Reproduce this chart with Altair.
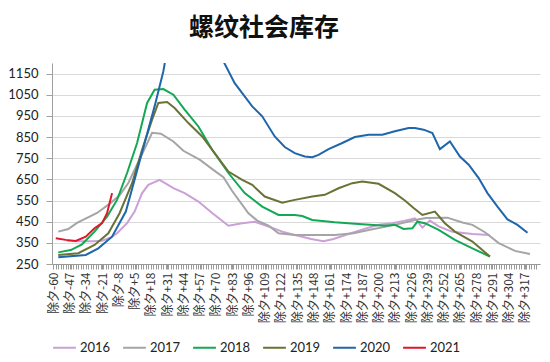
import altair as alt
import pandas as pd

years = ["2016", "2017", "2018", "2019", "2020", "2021"]
colors = ["#CBA0D6", "#A5A5A5", "#13A853", "#6A7335", "#1F66AB", "#E0162B"]

d2016_days = [-49, -42, -35, -28, -21, -14, -9, -1, 5, 11, 16, 25, 36, 45, 56, 67, 80, 91, 101, 112, 123, 133, 139, 146, 156, 164, 176, 188, 200, 211, 221, 229, 235, 241, 248, 259, 275, 289]
d2016_vals = [360, 358, 358, 358, 360, 375, 395, 443, 498, 585, 624, 648, 609, 585, 545, 491, 431, 443, 450, 427, 403, 387, 379, 368, 358, 368, 392, 415, 435, 443, 455, 466, 422, 455, 428, 402, 392, 387]

d2017_days = [-56, -48, -41, -25, -14, -7, 0, 10, 19, 26, 36, 44, 57, 69, 76, 83, 96, 103, 112, 120, 133, 150, 165, 180, 192, 213, 229, 238, 255, 267, 275, 285, 296, 309, 321]
d2017_vals = [403, 415, 444, 491, 539, 575, 633, 757, 870, 866, 829, 785, 743, 690, 660, 595, 490, 455, 432, 395, 387, 387, 387, 395, 411, 435, 458, 467, 469, 446, 435, 400, 349, 312, 297]

d2018_days = [-56, -46, -37, -27, -17, -9, -1, 7, 15, 21, 28, 36, 45, 56, 67, 80, 93, 107, 120, 133, 139, 147, 165, 184, 205, 213, 220, 227, 231, 237, 248, 261, 275, 289]
d2018_vals = [305, 316, 343, 403, 474, 553, 680, 822, 1011, 1074, 1077, 1050, 980, 900, 790, 680, 585, 521, 482, 482, 477, 458, 447, 439, 431, 435, 416, 419, 450, 443, 411, 364, 324, 285]

d2019_days = [-56, -40, -27, -16, -7, 3, 11, 19, 24, 31, 37, 48, 59, 69, 80, 91, 99, 109, 123, 133, 147, 157, 168, 179, 187, 200, 213, 221, 228, 235, 245, 253, 261, 275, 289]
d2019_vals = [293, 301, 340, 395, 490, 632, 790, 932, 1011, 1016, 987, 916, 853, 774, 687, 648, 624, 569, 540, 553, 569, 577, 608, 632, 640, 629, 585, 550, 515, 482, 498, 443, 403, 356, 285]

d2020_days = [-56, -34, -24, -13, -2, 5, 13, 21, 28, 35, 42, 49, 56, 63, 70, 76, 85, 99, 107, 117, 125, 133, 141, 147, 152, 160, 171, 181, 192, 203, 213, 224, 229, 236, 243, 249, 257, 265, 272, 280, 287, 295, 303, 311, 319]
d2020_vals = [282, 293, 324, 379, 498, 648, 822, 995, 1161, 1400, 1520, 1560, 1500, 1400, 1290, 1208, 1105, 995, 948, 853, 803, 774, 758, 755, 766, 793, 822, 850, 861, 861, 877, 893, 893, 885, 869, 793, 829, 758, 719, 656, 585, 521, 461, 435, 398]

d2021_days = [-58, -50, -42, -34, -27, -21, -17, -13]
d2021_vals = [372, 364, 359, 379, 419, 443, 490, 585]

y_ticks = [250, 350, 450, 550, 650, 750, 850, 950, 1050, 1150]
x_label_start = -60
x_label_step = 13

series = {
    "2016": (d2016_days, d2016_vals),
    "2017": (d2017_days, d2017_vals),
    "2018": (d2018_days, d2018_vals),
    "2019": (d2019_days, d2019_vals),
    "2020": (d2020_days, d2020_vals),
    "2021": (d2021_days, d2021_vals),
}
rows = []
for yr, (ds, vs) in series.items():
    for d, v in zip(ds, vs):
        rows.append({"year": yr, "day": d, "value": v})
df = pd.DataFrame(rows)

x_tick_values = sorted(set(range(-60, 328, 2)) | set(range(x_label_start, 328, x_label_step)))
label_expr = ("(datum.value + 60) % 13 == 0 ? (datum.value < 0 ? '除夕' + datum.value : '除夕+' + datum.value) : ''")

chart = alt.Chart(df).mark_line(strokeWidth=2, clip=True).encode(
    x=alt.X("day:Q", scale=alt.Scale(domain=[-61, 329], nice=False, zero=False),
            axis=alt.Axis(values=x_tick_values, labelExpr=label_expr, labelAngle=270,
                          labelOverlap=False, labelFont="Noto Sans CJK SC", labelFontSize=12,
                          labelColor="#333333", labelPadding=3, tickSize=5, tickColor="#9A9A9A",
                          domainColor="#9A9A9A", grid=False, title=None)),
    y=alt.Y("value:Q", scale=alt.Scale(domain=[250, 1200], nice=False, zero=False),
            axis=alt.Axis(values=y_ticks, format="d", labelFont="Lato", labelFontSize=13,
                          labelColor="#222222", labelPadding=8, tickSize=6, tickColor="#A0A0A0",
                          domainColor="#A0A0A0", gridColor="#D9D9D9", title=None)),
    color=alt.Color("year:N", scale=alt.Scale(domain=years, range=colors),
                    legend=alt.Legend(orient="bottom", direction="horizontal", title=None,
                                      symbolType="stroke", symbolSize=520, symbolStrokeWidth=2,
                                      labelFont="Lato", labelFontSize=13, labelColor="#222222",
                                      columnPadding=8, labelOffset=3, offset=12)),
    order=alt.Order("day:Q"),
).properties(
    width=488, height=201,
    padding={"left": 44, "top": 55, "right": 2, "bottom": 90},
    autosize=alt.AutoSizeParams(type="none"),
    title=alt.TitleParams("螺纹社会库存", font="Noto Sans CJK SC", fontSize=25, fontWeight="bold",
                          color="#111111", offset=22, anchor="middle", dx=-32),
).configure_view(stroke=None)

chart.save("out.html", embed_options={"renderer": "svg", "actions": False})
